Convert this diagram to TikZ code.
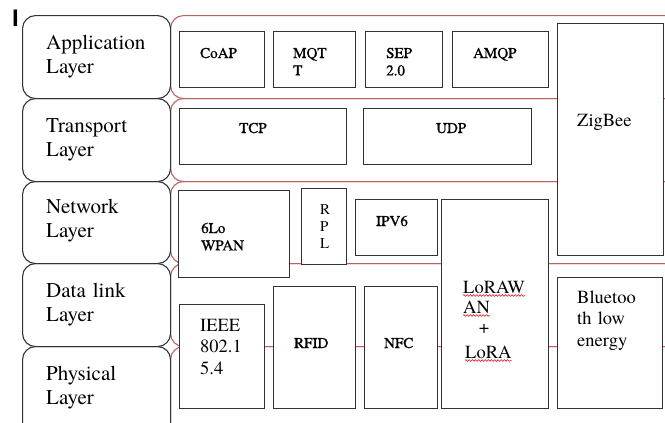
\documentclass[tikz,border=0pt]{standalone}
\usepackage{fontspec}
\setmainfont{texgyretermes}[Extension=.otf, UprightFont=*-regular, BoldFont=*-bold, ItalicFont=*-italic, BoldItalicFont=*-bolditalic]
\newfontfamily\tnr{texgyretermes}[Extension=.otf, UprightFont=*-regular, BoldFont=*-bold]
\newfontfamily\tnrsemi{texgyretermes}[Extension=.otf, UprightFont=*-regular, FakeBold=1]
\newfontfamily\cursorfont{Liberation Sans}
\usetikzlibrary{decorations.pathmorphing}
\definecolor{redline}{RGB}{185,98,95}
\definecolor{boxline}{RGB}{50,50,50}
\begin{document}
\begin{tikzpicture}[x=1pt,y=-1pt,
  layerbox/.style={draw=boxline, line width=1.1pt, rounded corners=13pt, anchor=north west, inner sep=0pt},
  band/.style={draw=redline, line width=1.1pt, rounded corners=13pt, anchor=north west, inner sep=0pt},
  proto/.style={draw=boxline, line width=1.1pt, fill=white, anchor=north west, inner sep=0pt},
  lbl/.style={anchor=base west, inner sep=0pt, align=left},
  layertxt/.style={lbl, text width=120pt, font=\tnr\fontsize{21}{24.5}\selectfont},
  smalltxt/.style={lbl, text width=70pt, font=\tnr\fontsize{15}{17.4}\selectfont},
  smallbold/.style={smalltxt, font=\tnrsemi\bfseries\fontsize{15}{17.4}\selectfont},
  bigtxt/.style={lbl, text width=80pt, font=\tnr\fontsize{18.5}{21.8}\selectfont},
  squig/.style={draw=red!85!black, line width=0.5pt, decorate, decoration={snake, amplitude=0.9pt, segment length=3.2pt}}
]
\useasboundingbox (0,0) rectangle (665,423);
\begin{scope}
\clip (0,0) rectangle (665,423);
% red bands
\node[band, minimum width=520pt, minimum height=83pt] (bapp) at (170,15) {};
\node[band, minimum width=520pt, minimum height=83pt] (btra) at (170,98) {};
\node[band, minimum width=520pt, minimum height=82pt] (bnet) at (170,181) {};
\node[band, minimum width=520pt, minimum height=83pt] (bdl) at (170,263) {};
\node[band, minimum width=520pt, minimum height=95pt] (bphy) at (170,346) {};
% layer boxes
\node[layerbox, minimum width=148pt, minimum height=83pt] (lapp) at (22,15) {};
\node[layerbox, minimum width=148pt, minimum height=83pt] (ltra) at (22,98) {};
\node[layerbox, minimum width=148pt, minimum height=82pt] (lnet) at (22,181) {};
\node[layerbox, minimum width=148pt, minimum height=83pt] (ldl) at (22,263) {};
\node[layerbox, minimum width=148pt, minimum height=95pt] (lphy) at (22,346) {};
\end{scope}
% protocol boxes
\node[proto, minimum width=85pt, minimum height=56pt] (coap) at (179,31) {};
\node[proto, minimum width=82pt, minimum height=56pt] (mqtt) at (273,31) {};
\node[proto, minimum width=77pt, minimum height=56pt] (sep) at (365,31) {};
\node[proto, minimum width=96pt, minimum height=56pt] (amqp) at (452,31) {};
\node[proto, minimum width=106pt, minimum height=232pt] (zigbee) at (557,23) {};
\node[proto, minimum width=167pt, minimum height=56pt] (tcp) at (179,108) {};
\node[proto, minimum width=168pt, minimum height=56pt] (udp) at (363,108) {};
\node[proto, minimum width=111pt, minimum height=87pt] (lowpan) at (178,190) {};
\node[proto, minimum width=45pt, minimum height=76pt] (rpl) at (301,188) {};
\node[proto, minimum width=82pt, minimum height=56pt] (ipv6) at (355,199) {};
\node[proto, minimum width=107pt, minimum height=209pt] (lora) at (441,199) {};
\node[proto, minimum width=105pt, minimum height=131pt] (ble) at (557,277) {};
\node[proto, minimum width=85pt, minimum height=104pt] (ieee) at (179,304) {};
\node[proto, minimum width=82pt, minimum height=122pt] (rfid) at (273,286) {};
\node[proto, minimum width=73pt, minimum height=122pt] (nfc) at (364,286) {};
% cursor-like text
\node[anchor=base west, inner sep=0pt, font=\cursorfont\bfseries\fontsize{24}{26}\selectfont] (cursor) at (12,27) {I};
% layer labels
\node[layertxt] (tapp) at (46,49) {Application\\Layer};
\node[layertxt] (ttra) at (46,132) {Transport\\Layer};
\node[layertxt] (tnet) at (46,213) {Network\\Layer};
\node[layertxt] (tdl) at (46,297) {Data link\\Layer};
\node[layertxt] (tphy) at (46,380) {Physical\\Layer};
% protocol labels
\node[smallbold] (tcoap) at (200,58) {CoAP};
\node[smallbold] (tmqtt) at (293,58) {MQT\\T};
\node[smallbold] (tsep) at (386,58) {SEP\\2.0};
\node[smallbold] (tamqp) at (473,58) {AMQP};
\node[bigtxt] (tzig) at (577,126) {ZigBee};
\node[smallbold] (ttcp) at (239,133) {TCP};
\node[smallbold] (tudp) at (436,133) {UDP};
\node[smallbold] (tlow) at (201,233) {6Lo\\WPAN};
\node[smalltxt] (trpl) at (320,214) {R\\P\\L};
\node[smallbold] (tipv6) at (376,226) {IPV6};
\node[bigtxt, text width=] (tl1) at (463,293) {LoRAW};
\node[bigtxt, text width=] (tl2) at (463,313) {AN};
\node[anchor=base, inner sep=0pt, font=\tnr\fontsize{18.5}{21.8}\selectfont] (tplus) at (484,333) {+};
\node[bigtxt, text width=] (tl3) at (465,358) {LoRA};
\draw[squig] ([yshift=-2.5pt]tl1.base west) -- ([yshift=-2.5pt]tl1.base east);
\draw[squig] ([yshift=-2.5pt]tl2.base west) -- ([yshift=-2.5pt]tl2.base east);
\draw[squig] ([yshift=-2.5pt]tl3.base west) -- ([yshift=-2.5pt]tl3.base east);
\node[bigtxt] (tble) at (577,303) {Bluetoo\\th low\\energy};
\node[bigtxt] (tieee) at (200,331) {IEEE\\802.1\\5.4};
\node[smallbold] (trfid) at (294,348) {RFID};
\node[smallbold] (tnfc) at (384,348) {NFC};
\end{tikzpicture}
\end{document}
